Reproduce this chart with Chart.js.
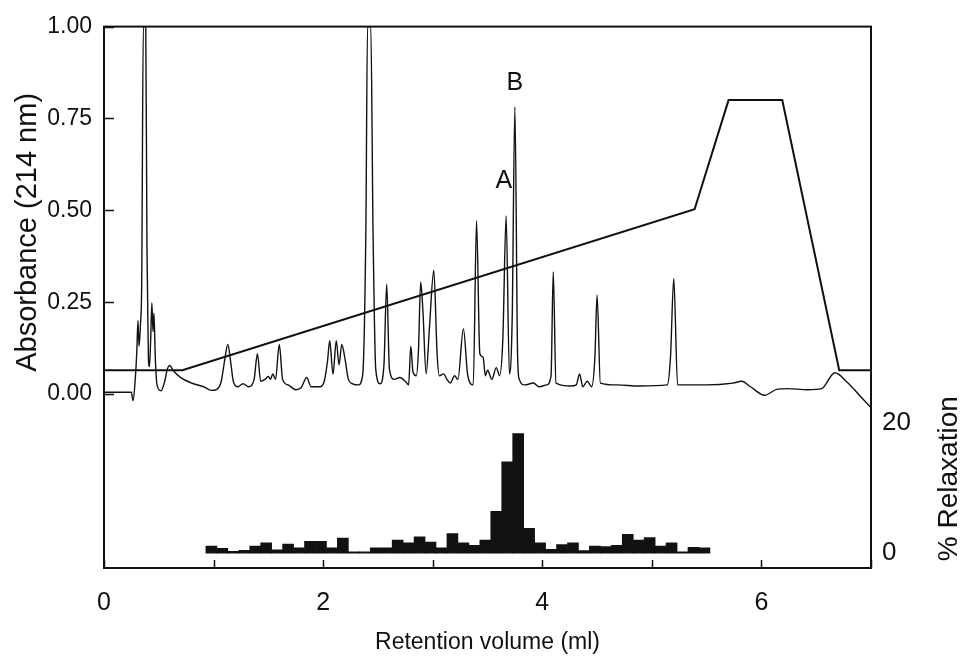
<!DOCTYPE html>
<html>
<head>
<meta charset="utf-8">
<script src="https://cdn.jsdelivr.net/npm/chart.js@4.4.1/dist/chart.umd.min.js"></script>
<style>
  html, body { margin: 0; padding: 0; background: #fff; }
  canvas { display: block; }
</style>
</head>
<body>
<canvas id="chart" width="969" height="667"></canvas>
<script>
// HPLC trace: retention volume (ml) and absorbance at 214 nm
const volume = [
  0.00, 0.25, 0.265, 0.285, 0.30, 0.31, 0.32, 0.333, 0.344, 0.359, 0.381, 0.392, 0.405, 0.415, 0.425,
  0.437, 0.447, 0.456, 0.468, 0.484, 0.52, 0.55, 0.58, 0.60, 0.63, 0.70, 0.80, 0.91, 0.98, 1.03,
  1.07, 1.10, 1.13, 1.155, 1.18, 1.22, 1.27, 1.32, 1.37, 1.40, 1.43, 1.47, 1.50, 1.52, 1.54,
  1.565, 1.60, 1.63, 1.68, 1.75, 1.80, 1.85, 1.89, 1.97, 2.01, 2.04, 2.06, 2.09, 2.12, 2.145,
  2.17, 2.20, 2.23, 2.27, 2.32, 2.36, 2.39, 2.405, 2.435, 2.455, 2.48, 2.52, 2.555, 2.58, 2.605,
  2.65, 2.70, 2.75, 2.78, 2.80, 2.82, 2.85, 2.87, 2.89, 2.91, 2.94, 2.97, 3.01, 3.04, 3.06,
  3.10, 3.13, 3.16, 3.20, 3.23, 3.28, 3.32, 3.37, 3.40, 3.43, 3.46, 3.48, 3.50, 3.54, 3.58,
  3.61, 3.64, 3.67, 3.70, 3.725, 3.75, 3.775, 3.79, 3.84, 3.92, 3.97, 4.04, 4.08, 4.10, 4.125,
  4.26, 4.31, 4.34, 4.37, 4.41, 4.45, 4.48, 4.50, 4.53, 4.68, 4.89, 5.14, 5.17, 5.20, 5.235,
  5.50, 5.74, 5.82, 5.90, 6.03, 6.14, 6.24, 6.42, 6.55, 6.67, 6.78, 6.90, 7.00
];
const absorbance = [
  0.005, 0.005, -0.018, 0.04, 0.12, 0.20, 0.13, 0.19, 0.30, 1.00, 1.00, 0.40, 0.10, 0.075, 0.14,
  0.248, 0.17, 0.22, 0.10, 0.025, 0.009, 0.03, 0.07, 0.078, 0.065, 0.045, 0.03, 0.02, 0.01, 0.013,
  0.035, 0.09, 0.135, 0.09, 0.035, 0.02, 0.028, 0.02, 0.04, 0.11, 0.035, 0.04, 0.048, 0.04, 0.055,
  0.04, 0.135, 0.04, 0.025, 0.012, 0.018, 0.045, 0.02, 0.02, 0.035, 0.09, 0.145, 0.054, 0.145, 0.08,
  0.135, 0.095, 0.04, 0.028, 0.025, 0.05, 0.45, 1.00, 1.00, 0.45, 0.068, 0.028, 0.08, 0.30, 0.068,
  0.04, 0.045, 0.035, 0.025, 0.13, 0.06, 0.05, 0.12, 0.305, 0.23, 0.055, 0.18, 0.337, 0.11, 0.05,
  0.055, 0.04, 0.03, 0.05, 0.04, 0.178, 0.05, 0.025, 0.472, 0.11, 0.10, 0.05, 0.065, 0.04, 0.072,
  0.05, 0.15, 0.485, 0.055, 0.20, 0.781, 0.10, 0.04, 0.025, 0.03, 0.02, 0.025, 0.05, 0.333, 0.03,
  0.022, 0.025, 0.055, 0.02, 0.035, 0.02, 0.10, 0.27, 0.03, 0.025, 0.022, 0.025, 0.10, 0.315, 0.025,
  0.025, 0.03, 0.035, 0.02, -0.003, 0.013, 0.015, 0.012, 0.015, 0.058, 0.033, -0.005, -0.037
];

// Solvent gradient programme (same absorbance axis)
const gradientVolume = [0.00, 0.715, 5.39, 5.70, 6.19, 6.71, 7.00];
const gradientLevel  = [0.065, 0.065, 0.503, 0.80, 0.80, 0.065, 0.065];

// Bioassay of collected fractions: % relaxation per 0.1 ml fraction
const fractionVolume = [
  0.98, 1.08, 1.18, 1.28, 1.38, 1.48, 1.58, 1.68, 1.78, 1.88, 1.98, 2.08, 2.18, 2.28, 2.38, 2.48,
  2.58, 2.68, 2.78, 2.88, 2.98, 3.08, 3.18, 3.28, 3.38, 3.48, 3.58, 3.68, 3.78, 3.88, 3.98, 4.08,
  4.18, 4.28, 4.38, 4.48, 4.58, 4.68, 4.78, 4.88, 4.98, 5.08, 5.18, 5.28, 5.38, 5.48
];
const relaxation = [
  1.1, 0.75, 0.3, 0.45, 1.1, 1.6, 0.5, 1.4, 0.8, 1.8, 1.8, 0.8, 2.3, 0.2, 0.2, 0.8,
  0.8, 2.0, 1.6, 2.5, 1.7, 0.8, 3.0, 1.6, 1.2, 2.0, 6.4, 14.0, 18.3, 3.8, 1.6, 0.6,
  1.3, 1.6, 0.4, 1.1, 1.0, 1.2, 2.9, 2.0, 2.4, 1.1, 1.6, 0.2, 0.9, 0.8
];

const volumeTicks = [0, 1, 2, 3, 4, 5, 6, 7];
const absorbanceTicks = [0, 0.25, 0.5, 0.75, 1];
const relaxationTicks = [0, 20];
const peakNames = ['A', 'B'];

const FONT = '"Liberation Sans", Arial, Helvetica, sans-serif';
const INK = '#111';
Chart.defaults.font.family = FONT;
Chart.defaults.color = INK;

// Frame, inward tick marks, rotated axis titles and peak names
const decorations = {
  id: 'decorations',
  afterDatasetsDraw(chart, args, opts) {
    const { ctx, chartArea: a, scales } = chart;
    ctx.save();
    ctx.strokeStyle = INK;
    ctx.lineWidth = 2;
    ctx.strokeRect(a.left, a.top, a.right - a.left, a.bottom - a.top);

    ctx.lineWidth = 1.5;
    scales.x.ticks.forEach(t => {
      const px = Math.round(scales.x.getPixelForValue(t.value)) + 0.5;
      ctx.beginPath(); ctx.moveTo(px, a.bottom); ctx.lineTo(px, a.bottom - opts.tickLength.x); ctx.stroke();
    });
    scales.y.ticks.forEach(t => {
      const py = Math.round(scales.y.getPixelForValue(t.value)) + 0.5;
      ctx.beginPath(); ctx.moveTo(a.left, py); ctx.lineTo(a.left + opts.tickLength.y, py); ctx.stroke();
    });

    ctx.fillStyle = INK;
    ctx.textAlign = 'center';
    ctx.textBaseline = 'middle';
    opts.titles.forEach(tt => {
      const scale = scales[tt.axis];
      ctx.save();
      ctx.font = tt.size + 'px ' + FONT;
      ctx.translate(tt.x, scale.getPixelForValue(tt.at));
      ctx.rotate(-Math.PI / 2);
      ctx.fillText(tt.text, 0, 0);
      ctx.restore();
    });

    ctx.font = opts.peakFont + 'px ' + FONT;
    opts.peaks.forEach((p, i) => {
      ctx.fillText(peakNames[i], scales.x.getPixelForValue(p.x), scales.y.getPixelForValue(p.y));
    });
    ctx.restore();
  }
};

new Chart(document.getElementById('chart'), {
  type: 'line',
  data: {
    datasets: [
      {
        type: 'bar',
        label: '% Relaxation',
        data: fractionVolume.map((x, i) => ({ x, y: relaxation[i] })),
        xAxisID: 'x',
        yAxisID: 'y2',
        backgroundColor: INK,
        borderWidth: 0,
        barPercentage: 1,
        categoryPercentage: 1,
        order: 3
      },
      {
        label: 'Absorbance (214 nm)',
        data: volume.map((x, i) => ({ x, y: absorbance[i] })),
        xAxisID: 'x',
        yAxisID: 'y',
        borderColor: INK,
        borderWidth: 1.4,
        pointRadius: 0,
        cubicInterpolationMode: 'monotone',
        fill: false,
        order: 2
      },
      {
        label: 'Gradient',
        data: gradientVolume.map((x, i) => ({ x, y: gradientLevel[i] })),
        xAxisID: 'x',
        yAxisID: 'y',
        borderColor: INK,
        borderWidth: 2,
        pointRadius: 0,
        tension: 0,
        fill: false,
        order: 1
      }
    ]
  },
  options: {
    responsive: false,
    animation: false,
    devicePixelRatio: 1,
    layout: { padding: { top: 21, left: 0, right: 0, bottom: 0 } },
    plugins: {
      legend: { display: false },
      tooltip: { enabled: false },
      decorations: {
        tickLength: { x: 8, y: 10 },
        titles: [
          { axis: 'y', text: 'Absorbance (214 nm)', at: 0.44, x: 28, size: 29 },
          { axis: 'y2', text: '% Relaxation', at: 11.4, x: 949, size: 28 }
        ],
        peakFont: 25,
        peaks: [ { x: 3.65, y: 0.58 }, { x: 3.75, y: 0.847 } ]
      }
    },
    scales: {
      x: {
        type: 'linear',
        position: 'bottom',
        offset: false,
        min: 0,
        max: 7,
        afterBuildTicks: s => { s.ticks = volumeTicks.map(v => ({ value: v })); },
        afterFit: s => { s.height = 99; },
        grid: { display: false, drawTicks: false, offset: false },
        border: { display: false },
        ticks: {
          autoSkip: false,
          maxRotation: 0,
          padding: 20,
          font: { size: 25 },
          callback: v => (v % 2 === 0 ? String(v) : '')
        },
        title: {
          display: true,
          text: 'Retention volume (ml)',
          font: { size: 23 },
          padding: { top: 0, bottom: 11 }
        }
      },
      y: {
        type: 'linear',
        position: 'left',
        min: -0.4732,
        max: 1,
        afterBuildTicks: s => { s.ticks = absorbanceTicks.map(v => ({ value: v })); },
        afterFit: s => { s.width = 104; },
        grid: { display: false, drawTicks: false },
        border: { display: false },
        ticks: {
          padding: 12,
          font: { size: 23 },
          callback: v => Number(v).toFixed(2)
        }
      },
      y2: {
        type: 'linear',
        position: 'right',
        min: -2.27,
        max: 80.61,
        afterBuildTicks: s => { s.ticks = relaxationTicks.map(v => ({ value: v })); },
        afterFit: s => { s.width = 98; },
        grid: { display: false, drawTicks: false },
        border: { display: false },
        ticks: {
          padding: 11,
          font: { size: 26 },
          callback: v => String(v)
        }
      }
    }
  },
  plugins: [decorations]
});
</script>
</body>
</html>
